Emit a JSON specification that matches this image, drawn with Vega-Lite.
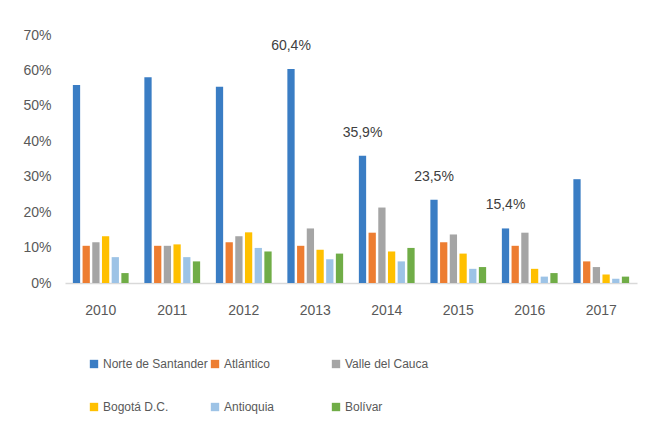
{
  "$schema": "https://vega.github.io/schema/vega-lite/v6.json",
  "width": 572,
  "height": 248,
  "autosize": {"type": "none"},
  "padding": {"left": 65, "top": 35, "right": 16, "bottom": 149},
  "background": "white",
  "config": {
    "view": {"stroke": null},
    "font": "Liberation Sans"
  },
  "data": {
    "values": [
      {"year": "2010", "dept": "Norte de Santander", "value": 0.559},
      {"year": "2010", "dept": "Atlántico", "value": 0.105},
      {"year": "2010", "dept": "Valle del Cauca", "value": 0.115},
      {"year": "2010", "dept": "Bogotá D.C.", "value": 0.132},
      {"year": "2010", "dept": "Antioquia", "value": 0.073},
      {"year": "2010", "dept": "Bolívar", "value": 0.028},
      {"year": "2011", "dept": "Norte de Santander", "value": 0.581},
      {"year": "2011", "dept": "Atlántico", "value": 0.105},
      {"year": "2011", "dept": "Valle del Cauca", "value": 0.105},
      {"year": "2011", "dept": "Bogotá D.C.", "value": 0.109},
      {"year": "2011", "dept": "Antioquia", "value": 0.073},
      {"year": "2011", "dept": "Bolívar", "value": 0.061},
      {"year": "2012", "dept": "Norte de Santander", "value": 0.554},
      {"year": "2012", "dept": "Atlántico", "value": 0.115},
      {"year": "2012", "dept": "Valle del Cauca", "value": 0.132},
      {"year": "2012", "dept": "Bogotá D.C.", "value": 0.143},
      {"year": "2012", "dept": "Antioquia", "value": 0.099},
      {"year": "2012", "dept": "Bolívar", "value": 0.089},
      {"year": "2013", "dept": "Norte de Santander", "value": 0.604, "label": "60,4%"},
      {"year": "2013", "dept": "Atlántico", "value": 0.105},
      {"year": "2013", "dept": "Valle del Cauca", "value": 0.154},
      {"year": "2013", "dept": "Bogotá D.C.", "value": 0.094},
      {"year": "2013", "dept": "Antioquia", "value": 0.067},
      {"year": "2013", "dept": "Bolívar", "value": 0.083},
      {"year": "2014", "dept": "Norte de Santander", "value": 0.359, "label": "35,9%"},
      {"year": "2014", "dept": "Atlántico", "value": 0.142},
      {"year": "2014", "dept": "Valle del Cauca", "value": 0.213},
      {"year": "2014", "dept": "Bogotá D.C.", "value": 0.089},
      {"year": "2014", "dept": "Antioquia", "value": 0.061},
      {"year": "2014", "dept": "Bolívar", "value": 0.099},
      {"year": "2015", "dept": "Norte de Santander", "value": 0.235, "label": "23,5%"},
      {"year": "2015", "dept": "Atlántico", "value": 0.115},
      {"year": "2015", "dept": "Valle del Cauca", "value": 0.137},
      {"year": "2015", "dept": "Bogotá D.C.", "value": 0.083},
      {"year": "2015", "dept": "Antioquia", "value": 0.04},
      {"year": "2015", "dept": "Bolívar", "value": 0.045},
      {"year": "2016", "dept": "Norte de Santander", "value": 0.154, "label": "15,4%"},
      {"year": "2016", "dept": "Atlántico", "value": 0.105},
      {"year": "2016", "dept": "Valle del Cauca", "value": 0.142},
      {"year": "2016", "dept": "Bogotá D.C.", "value": 0.04},
      {"year": "2016", "dept": "Antioquia", "value": 0.018},
      {"year": "2016", "dept": "Bolívar", "value": 0.028},
      {"year": "2017", "dept": "Norte de Santander", "value": 0.293},
      {"year": "2017", "dept": "Atlántico", "value": 0.061},
      {"year": "2017", "dept": "Valle del Cauca", "value": 0.045},
      {"year": "2017", "dept": "Bogotá D.C.", "value": 0.024},
      {"year": "2017", "dept": "Antioquia", "value": 0.012},
      {"year": "2017", "dept": "Bolívar", "value": 0.018}
    ]
  },
  "encoding": {
    "x": {
      "field": "year",
      "type": "nominal",
      "scale": {"paddingInner": 0.22, "paddingOuter": 0.11},
      "axis": {
        "title": null,
        "labelAngle": 0,
        "labelFontSize": 14,
        "labelColor": "#595959",
        "labelPadding": 20,
        "ticks": false,
        "domainColor": "#d9d9d9",
        "domainWidth": 1.5
      }
    },
    "xOffset": {
      "field": "dept",
      "type": "nominal",
      "sort": ["Norte de Santander", "Atlántico", "Valle del Cauca", "Bogotá D.C.", "Antioquia", "Bolívar"],
      "scale": {"paddingInner": 0.25}
    },
    "y": {
      "field": "value",
      "type": "quantitative",
      "scale": {"domain": [0, 0.7], "nice": false},
      "axis": {
        "title": null,
        "format": ".0%",
        "values": [0, 0.1, 0.2, 0.3, 0.4, 0.5, 0.6, 0.7],
        "labelOverlap": false,
        "grid": false,
        "domain": false,
        "ticks": false,
        "labelFontSize": 14,
        "labelColor": "#595959",
        "labelPadding": 14
      }
    }
  },
  "layer": [
    {
      "mark": {"type": "bar"},
      "encoding": {
        "color": {
          "field": "dept",
          "type": "nominal",
          "sort": ["Norte de Santander", "Atlántico", "Valle del Cauca", "Bogotá D.C.", "Antioquia", "Bolívar"],
          "scale": {
            "domain": ["Norte de Santander", "Atlántico", "Valle del Cauca", "Bogotá D.C.", "Antioquia", "Bolívar"],
            "range": ["#3a7dc4", "#ed7d31", "#a5a5a5", "#ffc000", "#9dc3e6", "#70ad47"]
          },
          "legend": {
            "title": null,
            "orient": "none",
            "legendX": 23,
            "legendY": 323,
            "direction": "horizontal",
            "columns": 3,
            "gridAlign": "all",
            "columnPadding": 1,
            "rowPadding": 31,
            "symbolType": "square",
            "symbolSize": 70,
            "symbolStrokeWidth": 0,
            "labelFontSize": 12,
            "labelColor": "#595959",
            "labelOffset": 3,
            "labelLimit": 200
          }
        }
      }
    },
    {
      "transform": [{"filter": "datum.label != null"}],
      "mark": {"type": "text", "baseline": "bottom", "dy": -16, "fontSize": 14, "color": "#404040"},
      "encoding": {
        "text": {"field": "label"}
      }
    }
  ]
}
